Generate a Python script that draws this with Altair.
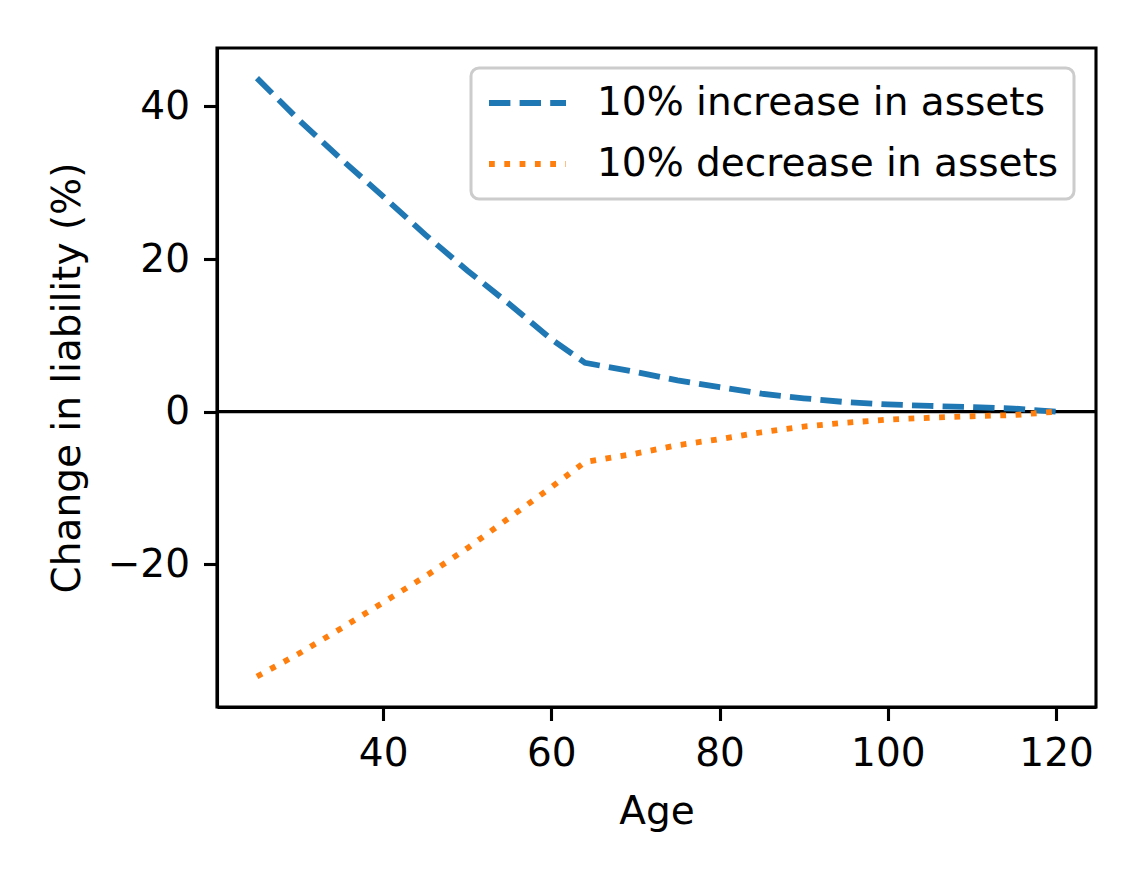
import altair as alt
import pandas as pd

ages = [25, 30, 35, 40, 45, 50, 55, 60, 64, 70, 75, 80, 85, 90, 95, 100, 105, 110, 115, 120]
increase = [43.7, 38.2, 33.1, 28.2, 23.2, 18.5, 14.1, 9.5, 6.4, 5.2, 4.1, 3.2, 2.35, 1.75, 1.25, 0.95, 0.75, 0.6, 0.4, 0.0]
decrease = [-34.7, -31.7, -28.4, -25.0, -21.6, -17.9, -13.9, -9.9, -6.6, -5.5, -4.4, -3.6, -2.7, -1.95, -1.45, -1.05, -0.8, -0.6, -0.45, 0.0]
series_names = ["10% increase in assets", "10% decrease in assets"]
x_ticks = [40, 60, 80, 100, 120]
y_ticks = [-20, 0, 20, 40]

rows = []
for a, v in zip(ages, increase):
    rows.append({"Age": a, "value": v, "series": series_names[0]})
for a, v in zip(ages, decrease):
    rows.append({"Age": a, "value": v, "series": series_names[1]})
df = pd.DataFrame(rows)
zero_df = pd.DataFrame({"y": [0]})

FONT = "DejaVu Sans"
FS = 39


def make_legend():
    return alt.Legend(title=None, orient="none", legendX=254, legendY=20,
                      symbolType="stroke", symbolSize=5929, symbolStrokeWidth=5.8,
                      clipHeight=40, labelFontSize=FS, labelFont=FONT, labelLimit=0,
                      labelColor="black", labelOffset=28, padding=15,
                      rowPadding=21, fillColor="white", strokeColor="#cccccc",
                      cornerRadius=8)


x_enc = alt.X("Age:Q", scale=alt.Scale(domain=[20.25, 124.75], nice=False, zero=False),
              axis=alt.Axis(values=x_ticks, title="Age", grid=False))
y_enc = alt.Y("value:Q", scale=alt.Scale(domain=[-38.7, 47.65], nice=False, zero=False),
              axis=alt.Axis(values=y_ticks, title="Change in liability (%)", grid=False))

lines = alt.Chart(df).mark_line(strokeWidth=5.8, strokeCap="butt").encode(
    x=x_enc,
    y=y_enc,
    color=alt.Color("series:N", sort=series_names,
                    scale=alt.Scale(domain=series_names, range=["#1f77b4", "#ff7f0e"]),
                    legend=make_legend()),
    strokeDash=alt.StrokeDash("series:N", sort=series_names,
                              scale=alt.Scale(domain=series_names, range=[[21.4, 9.2], [5.8, 9.5]]),
                              legend=make_legend()),
    order=alt.Order("Age:Q"),
)

zero = alt.Chart(zero_df).mark_rule(color="black", strokeWidth=3.1).encode(
    y=alt.Y("y:Q", scale=alt.Scale(domain=[-38.7, 47.65], nice=False, zero=False))
)

chart = alt.layer(zero, lines).properties(
    width=879, height=659,
    padding={"left": 209, "top": 40, "right": 20, "bottom": 160},
    autosize=alt.AutoSizeParams(type="none"),
    background="white",
).configure_view(
    stroke="black", strokeWidth=3.1
).configure_axis(
    domainColor="black", domainWidth=3.1,
    tickColor="black", tickWidth=3.1, tickSize=13.5,
    labelFont=FONT, labelFontSize=FS, labelColor="black", labelPadding=14,
    titleFont=FONT, titleFontSize=FS, titleColor="black", titleFontWeight="normal",
).configure_axisX(
    titlePadding=19
).configure_axisY(
    titlePadding=20
).configure_legend(
    strokeWidth=3
)

chart.save("out.html", embed_options={"renderer": "svg", "actions": False})
